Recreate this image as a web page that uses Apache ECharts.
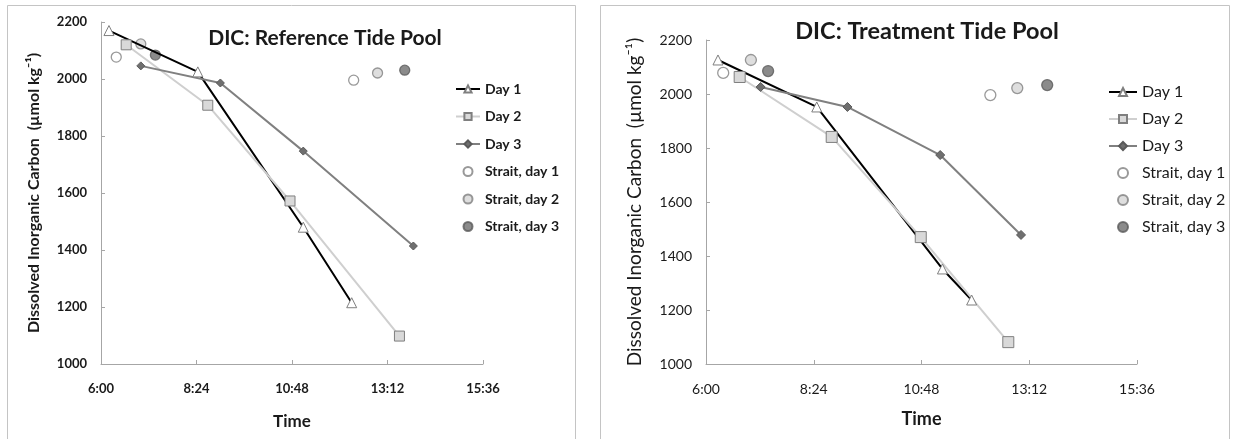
<!DOCTYPE html>
<html>
<head>
<meta charset="utf-8">
<script src="https://cdn.jsdelivr.net/npm/echarts@6/dist/echarts.min.js"></script>
<style>
  html, body { margin: 0; padding: 0; background: #fff; }
  #main { width: 1241px; height: 439px; }
</style>
</head>
<body>
<div id="main"></div>
<script>
// ---- data (time of day, DIC in umol/kg) ----
const seriesNames = ['Day 1', 'Day 2', 'Day 3', 'Strait, day 1', 'Strait, day 2', 'Strait, day 3'];
const timeTicks = ['6:00', '8:24', '10:48', '13:12', '15:36'];
const dicTicks = [1000, 1200, 1400, 1600, 1800, 2000, 2200];

// Reference tide pool
const refDay1Time = ['6:12', '8:26', '11:05', '12:18'];
const refDay1 = [2170, 2025, 1480, 1215];
const refDay2Time = ['6:38', '8:41', '10:45', '13:30'];
const refDay2 = [2120, 1908, 1572, 1098];
const refDay3Time = ['7:00', '9:00', '11:05', '13:51'];
const refDay3 = [2046, 1986, 1747, 1414];
const refStrait1Time = ['6:23', '12:21'];
const refStrait1 = [2077, 1996];
const refStrait2Time = ['7:00', '12:57'];
const refStrait2 = [2123, 2021];
const refStrait3Time = ['7:22', '13:38'];
const refStrait3 = [2084, 2031];

// Treatment tide pool
const trtDay1Time = ['6:16', '8:28', '11:16', '11:55'];
const trtDay1 = [2126, 1952, 1352, 1237];
const trtDay2Time = ['6:45', '8:48', '10:47', '12:44'];
const trtDay2 = [2063, 1841, 1470, 1081];
const trtDay3Time = ['7:13', '9:09', '11:13', '13:01'];
const trtDay3 = [2026, 1952, 1774, 1478];
const trtStrait1Time = ['6:23', '12:20'];
const trtStrait1 = [2078, 1996];
const trtStrait2Time = ['7:00', '12:56'];
const trtStrait2 = [2126, 2022];
const trtStrait3Time = ['7:23', '13:36'];
const trtStrait3 = [2085, 2033];

// ---- helpers ----
function toMin(t) {
    const p = t.split(':');
    return +p[0] * 60 + +p[1];
}
function fmtMin(v) {
    const h = Math.floor(v / 60);
    const m = Math.round(v - h * 60);
    return h + ':' + (m < 10 ? '0' : '') + m;
}
function pairs(times, vals) {
    return times.map((t, i) => [toMin(t), vals[i]]);
}

const FONT = 'Lato, "Open Sans", "DejaVu Sans", sans-serif';
const AXIS_GREY = '#a6a6a6';
const TXT = '#1a1a1a';

const tMin = toMin(timeTicks[0]);
const tMax = toMin(timeTicks[timeTicks.length - 1]);
const tStep = toMin(timeTicks[1]) - tMin;

function xAxisFor(gridIndex, bold, fs, nameFs, gap) {
    return {
        gridIndex: gridIndex,
        type: 'value',
        min: tMin, max: tMax, interval: tStep,
        name: 'Time',
        nameLocation: 'middle',
        nameGap: gap,
        nameTextStyle: { fontFamily: FONT, fontWeight: 'bold', fontSize: nameFs, color: TXT },
        axisLine: { lineStyle: { color: AXIS_GREY, width: 1 } },
        axisTick: { inside: true, length: 4, lineStyle: { color: AXIS_GREY } },
        axisLabel: {
            margin: 18,
            fontFamily: FONT, fontSize: fs, fontWeight: bold ? 'bold' : 'normal', color: TXT,
            formatter: fmtMin
        },
        splitLine: { show: false }
    };
}
function yAxisFor(gridIndex, bold, fs, nameFs, gap) {
    return {
        gridIndex: gridIndex,
        type: 'value',
        min: dicTicks[0], max: dicTicks[dicTicks.length - 1], interval: dicTicks[1] - dicTicks[0],
        name: 'Dissolved Inorganic Carbon  (\u00b5mol kg\u207b\u00b9)',
        nameLocation: 'middle',
        nameGap: gap,
        nameTextStyle: { fontFamily: FONT, fontWeight: bold ? 'bold' : 'normal', fontSize: nameFs, color: TXT },
        axisLine: { show: true, lineStyle: { color: AXIS_GREY, width: 1 } },
        axisTick: { show: true, inside: true, length: 4, lineStyle: { color: AXIS_GREY } },
        axisLabel: {
            margin: 14,
            fontFamily: FONT, fontSize: fs, fontWeight: bold ? 'bold' : 'normal', color: TXT,
            formatter: v => String(v)
        },
        splitLine: { show: false }
    };
}

// 一组 6 条系列（3 条折线 + 3 组海峡散点）
function seriesFor(idx, sizes, d) {
    return [
        {
            name: seriesNames[0], type: 'line', xAxisIndex: idx, yAxisIndex: idx,
            data: pairs(d[0][0], d[0][1]),
            symbol: 'triangle', symbolSize: sizes.tri,
            lineStyle: { color: '#000', width: 2 },
            itemStyle: { color: '#fff', borderColor: '#7f7f7f', borderWidth: 1 }
        },
        {
            name: seriesNames[1], type: 'line', xAxisIndex: idx, yAxisIndex: idx,
            data: pairs(d[1][0], d[1][1]),
            symbol: 'rect', symbolSize: sizes.sq,
            lineStyle: { color: '#cfcfcf', width: 2 },
            itemStyle: { color: '#d9d9d9', borderColor: '#7f7f7f', borderWidth: 1 }
        },
        {
            name: seriesNames[2], type: 'line', xAxisIndex: idx, yAxisIndex: idx,
            data: pairs(d[2][0], d[2][1]),
            symbol: 'diamond', symbolSize: sizes.dia,
            lineStyle: { color: '#808080', width: 2 },
            itemStyle: { color: '#6f6f6f', borderColor: '#5a5a5a', borderWidth: 1 }
        },
        {
            name: seriesNames[3], type: 'scatter', xAxisIndex: idx, yAxisIndex: idx,
            data: pairs(d[3][0], d[3][1]),
            symbol: 'circle', symbolSize: sizes.circ,
            itemStyle: { color: '#fff', borderColor: '#7f7f7f', borderWidth: 1.3 }
        },
        {
            name: seriesNames[4], type: 'scatter', xAxisIndex: idx, yAxisIndex: idx,
            data: pairs(d[4][0], d[4][1]),
            symbol: 'circle', symbolSize: sizes.circ,
            itemStyle: { color: '#d6d6d6', borderColor: '#7f7f7f', borderWidth: 1.3 }
        },
        {
            name: seriesNames[5], type: 'scatter', xAxisIndex: idx, yAxisIndex: idx,
            data: pairs(d[5][0], d[5][1]),
            symbol: 'circle', symbolSize: sizes.circ,
            itemStyle: { color: '#6e6e6e', borderColor: '#5a5a5a', borderWidth: 1.3 }
        }
    ];
}

const refData = [
    [refDay1Time, refDay1], [refDay2Time, refDay2], [refDay3Time, refDay3],
    [refStrait1Time, refStrait1], [refStrait2Time, refStrait2], [refStrait3Time, refStrait3]
];
const trtData = [
    [trtDay1Time, trtDay1], [trtDay2Time, trtDay2], [trtDay3Time, trtDay3],
    [trtStrait1Time, trtStrait1], [trtStrait2Time, trtStrait2], [trtStrait3Time, trtStrait3]
];

const chart = echarts.init(document.getElementById('main'), null, { renderer: 'canvas' });

const option = {
    backgroundColor: '#ffffff',
    animation: false,
    graphic: [
        { type: 'rect', shape: { x: 7.5, y: 5.5, width: 568, height: 460 },
          style: { fill: 'none', stroke: '#c4c4c4', lineWidth: 1 }, silent: true },
        { type: 'rect', shape: { x: 600.5, y: 5.5, width: 629, height: 460 },
          style: { fill: 'none', stroke: '#c4c4c4', lineWidth: 1 }, silent: true }
    ],
    title: [
        { text: 'DIC: Reference Tide Pool', left: 325, top: 28, textAlign: 'center', padding: 0,
          textStyle: { fontFamily: FONT, fontWeight: 'bold', fontSize: 21, color: TXT } },
        { text: 'DIC: Treatment Tide Pool', left: 927, top: 19, textAlign: 'center', padding: 0,
          textStyle: { fontFamily: FONT, fontWeight: 'bold', fontSize: 23.5, color: TXT } }
    ],
    legend: [
        { orient: 'vertical', left: 455, top: 82, padding: 0,
          itemWidth: 24, itemHeight: 9, itemGap: 13.5,
          data: seriesNames, selectedMode: false,
          textStyle: { fontFamily: FONT, fontWeight: 'bold', fontSize: 14, color: TXT } },
        { orient: 'vertical', left: 1108, top: 84, padding: 0,
          itemWidth: 28, itemHeight: 10, itemGap: 11,
          data: seriesNames, selectedMode: false,
          textStyle: { fontFamily: FONT, fontSize: 16, color: TXT } }
    ],
    grid: [
        { left: 101, top: 22, width: 382, height: 342 },
        { left: 706, top: 40, width: 431, height: 324 }
    ],
    xAxis: [
        xAxisFor(0, true, 13, 17, 49),
        xAxisFor(1, false, 14, 18, 46)
    ],
    yAxis: [
        yAxisFor(0, true, 13, 16, 59),
        yAxisFor(1, false, 14, 19, 62)
    ],
    series: [].concat(
        seriesFor(0, { tri: 10, sq: 10, dia: 8, circ: 10 }, refData),
        seriesFor(1, { tri: 10, sq: 11, dia: 9, circ: 11 }, trtData)
    )
};

chart.setOption(option);
</script>
</body>
</html>
